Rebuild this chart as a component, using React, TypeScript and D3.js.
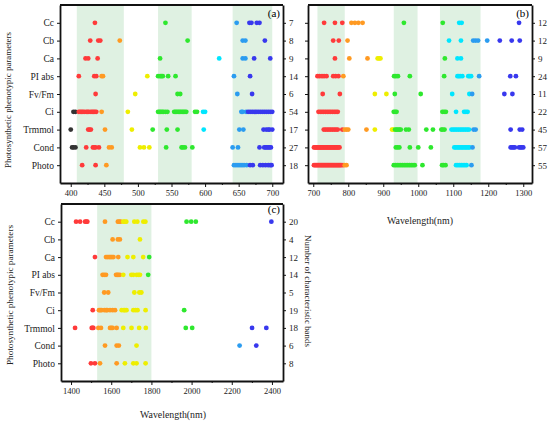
import { useEffect, useRef } from "react";
import * as d3 from "d3";

// Parameters (rows, top to bottom)
const params = ["Cc", "Cb", "Ca", "PI abs", "Fv/Fm", "Ci", "Trmmol", "Cond", "Photo"];

// Number of characteristic bands per parameter, per spectral region
const countsA = [7, 8, 9, 14, 6, 54, 17, 27, 18];
const countsB = [12, 12, 9, 24, 11, 22, 45, 57, 55];
const countsC = [20, 4, 12, 14, 5, 19, 18, 6, 8];

// Shaded wavelength ranges (nm)
const bandsA = [[409, 479], [530, 580], [641, 700]];
const bandsB = [[712, 790], [930, 998], [1062, 1178]];
const bandsC = [[1530, 1800]];

// Characteristic band wavelengths (nm), 400-700
const wavesA = [
    [436, 541, 647, 666, 669, 677, 681],
    [429, 441, 444, 473, 574, 656, 660, 689],
    [422, 426, 440, 533, 621, 656, 660, 673, 697],
    [412, 435, 438, 446, 448, 514, 530, 533, 535, 537, 545, 556, 643, 667],
    [437, 496, 559, 563, 648, 670],
    [404, 407, 412, 414, 416, 418, 420, 423, 425, 427, 430, 432, 434, 436, 438, 446, 485,
        530, 532, 534, 536, 538, 541, 544, 554, 556, 558, 560, 562, 564, 566, 568, 570, 572,
        585, 588, 597, 600, 654, 656, 661, 664, 667, 670, 673, 676, 679, 682, 685, 688, 691, 694, 697, 700],
    [400, 426, 428, 430, 451, 491, 522, 543, 559, 598, 651, 657, 687, 691, 694, 696, 700],
    [402, 404, 407, 423, 433, 435, 437, 442, 457, 461, 503, 509, 517, 542, 565, 567, 570, 581,
        641, 649, 681, 688, 690, 692, 694, 696, 698],
    [417, 437, 453, 643, 646, 649, 652, 655, 658, 662, 667, 671, 682, 686, 690, 694, 697, 699],
];

// 700-1300
const wavesB = [
    [731, 762, 783, 809, 819, 829, 841, 959, 1070, 1117, 1124, 1288],
    [757, 773, 798, 1088, 1122, 1157, 1164, 1171, 1197, 1233, 1267, 1290],
    [762, 803, 855, 884, 888, 892, 1076, 1112, 1122],
    [712, 718, 725, 731, 738, 757, 764, 772, 786, 931, 936, 942, 976, 1074, 1112, 1116, 1120,
        1126, 1143, 1147, 1151, 1174, 1263, 1279],
    [727, 776, 876, 909, 933, 1007, 1097, 1146, 1154, 1246, 1269],
    [715, 720, 725, 730, 735, 740, 745, 750, 755, 760, 765, 770, 930, 934, 938, 1069, 1074, 1079,
        1108, 1131, 1136, 1141],
    [730, 735, 740, 745, 750, 755, 760, 765, 770, 783, 790, 795, 800, 852, 876, 925, 929, 934, 938,
        942, 946, 950, 965, 973, 1023, 1042, 1066, 1070, 1075, 1095, 1100, 1105, 1110, 1115, 1120,
        1125, 1130, 1135, 1140, 1145, 1158, 1164, 1264, 1290, 1297],
    [702, 705, 707, 710, 712, 715, 717, 720, 722, 725, 727, 730, 732, 735, 737, 740, 742, 745, 747,
        750, 752, 755, 757, 760, 762, 765, 767, 770, 772, 775, 936, 941, 946, 976, 1000, 1036,
        1103, 1107, 1111, 1115, 1119, 1123, 1127, 1131, 1135, 1139, 1143, 1147, 1155,
        1264, 1268, 1272, 1276, 1288, 1292, 1296, 1300],
    [702, 705, 708, 711, 714, 717, 720, 723, 726, 729, 732, 735, 738, 741, 744, 747, 750, 753, 756,
        759, 762, 765, 768, 771, 774, 777, 780, 785, 790, 795, 930, 935, 940, 945, 950, 955, 960,
        965, 970, 975, 980, 985, 990, 1012, 1068, 1072, 1078, 1108, 1113, 1118, 1123, 1128, 1133,
        1138, 1152],
];

// 1400-2400
const wavesC = [
    [1425, 1445, 1470, 1476, 1481, 1569, 1633, 1640, 1647, 1660, 1667, 1675, 1715, 1730, 1760, 1770,
        1975, 1998, 2021, 2397],
    [1607, 1633, 1643, 1743],
    [1519, 1574, 1582, 1590, 1597, 1604, 1611, 1635, 1681, 1710, 1759, 1789],
    [1557, 1565, 1574, 1624, 1630, 1635, 1643, 1660, 1700, 1710, 1726, 1735, 1743, 1784],
    [1565, 1585, 1715, 1740, 1750],
    [1508, 1539, 1545, 1552, 1566, 1575, 1580, 1594, 1607, 1619, 1652, 1663, 1668, 1676, 1710, 1721,
        1731, 1771, 1963],
    [1420, 1503, 1507, 1511, 1536, 1549, 1594, 1600, 1607, 1627, 1660, 1701, 1739, 1772, 1971, 2003,
        2301, 2372],
    [1569, 1627, 1638, 1726, 2239, 2322],
    [1499, 1519, 1544, 1627, 1668, 1710, 1726, 1771],
];

const BLACK = "#333333", RED = "#ff3a3a", ORANGE = "#ff9a22", YELLOW = "#eeee00",
    GREEN = "#2ee82e", CYAN = "#00e6ff", DODGER = "#2b9cf0", BLUE = "#3838ee";

const FONT = "'Liberation Serif', 'Times New Roman', serif";

interface PanelSpec {
    left: number; top: number; right: number; bottom: number;
    domain: [number, number];
    major: number[]; minor: number[];
    waves: number[][]; counts: number[]; bands: number[][];
    color: d3.ScaleThreshold<number, string>;
    catLabels: boolean; tag: string; tagDy: number;
}

const App: React.FC = () => {
    const svgRef = useRef<SVGSVGElement | null>(null);

    useEffect(() => {
        if (!svgRef.current) return;
        const svg = d3.select(svgRef.current);
        svg.selectAll("*").remove();

        const panels: PanelSpec[] = [
            {
                left: 60, top: 5, right: 283, bottom: 183, domain: [384, 716],
                major: d3.range(400, 701, 50), minor: d3.range(425, 700, 50),
                waves: wavesA, counts: countsA, bands: bandsA,
                color: d3.scaleThreshold<number, string>()
                    .domain([410, 445, 480, 520, 592, 630, 664])
                    .range([BLACK, RED, ORANGE, YELLOW, GREEN, CYAN, DODGER, BLUE]),
                catLabels: true, tag: "(a)", tagDy: 12,
            },
            {
                left: 308, top: 5, right: 532, bottom: 183, domain: [685, 1325],
                major: d3.range(700, 1301, 100), minor: d3.range(750, 1300, 100),
                waves: wavesB, counts: countsB, bands: bandsB,
                color: d3.scaleThreshold<number, string>()
                    .domain([786, 860, 930, 1085, 1152, 1220])
                    .range([RED, ORANGE, YELLOW, GREEN, CYAN, DODGER, BLUE]),
                catLabels: false, tag: "(b)", tagDy: 12,
            },
            {
                left: 61, top: 204, right: 283, bottom: 381, domain: [1350, 2455],
                major: d3.range(1400, 2401, 200), minor: d3.range(1500, 2400, 200),
                waves: wavesC, counts: countsC, bands: bandsC,
                color: d3.scaleThreshold<number, string>()
                    .domain([1525, 1650, 1778, 2100, 2280])
                    .range([RED, ORANGE, YELLOW, GREEN, DODGER, BLUE]),
                catLabels: true, tag: "(c)", tagDy: 9,
            },
        ];

        panels.forEach(p => {
            const x = d3.scaleLinear().domain(p.domain).range([p.left, p.right]);
            const y = d3.scaleLinear().domain([-1, params.length]).range([p.top, p.bottom]);
            const g = svg.append("g");

            // shaded bands
            g.selectAll(".band")
                .data(p.bands)
                .enter()
                .append("rect")
                .attr("x", d => x(d[0]))
                .attr("y", p.top)
                .attr("width", d => x(d[1]) - x(d[0]))
                .attr("height", p.bottom - p.top)
                .attr("fill", "#dff1e2");

            // dots
            const pts = p.waves.flatMap((row, i) => row.map(w => ({ w, i })));
            g.selectAll(".dot")
                .data(pts)
                .enter()
                .append("circle")
                .attr("cx", d => x(d.w))
                .attr("cy", d => y(d.i))
                .attr("r", 2.4)
                .attr("fill", d => p.color(d.w));

            const rows = d3.range(params.length);

            // left axis
            const leftAxis = g.append("g")
                .attr("transform", `translate(${p.left},0)`)
                .call(d3.axisLeft(y).tickValues(rows).tickSize(3).tickSizeOuter(0)
                    .tickFormat(i => p.catLabels ? params[i as number] : ""));
            leftAxis.selectAll("text").style("font-family", FONT).style("font-size", "9.5px")
                .attr("fill", "#222").attr("dy", "0.33em");

            // right axis with counts
            const rightAxis = g.append("g")
                .attr("transform", `translate(${p.right},0)`)
                .call(d3.axisRight(y).tickValues(rows).tickSize(3).tickSizeOuter(0)
                    .tickFormat(i => String(p.counts[i as number])));
            rightAxis.selectAll("text").style("font-family", FONT).style("font-size", "9px")
                .attr("fill", "#222").attr("dy", "0.33em");

            // bottom axis
            const bottomAxis = g.append("g")
                .attr("transform", `translate(0,${p.bottom})`)
                .call(d3.axisBottom(x).tickValues(p.major).tickSize(4).tickSizeOuter(0)
                    .tickFormat(d3.format("d")));
            bottomAxis.selectAll("text").style("font-family", FONT).style("font-size", "8.5px")
                .attr("fill", "#222");
            g.append("g")
                .attr("transform", `translate(0,${p.bottom})`)
                .call(d3.axisBottom(x).tickValues(p.minor).tickSize(2).tickSizeOuter(0)
                    .tickFormat(() => ""))
                .select(".domain").remove();

            // top frame
            g.append("line")
                .attr("x1", p.left).attr("x2", p.right)
                .attr("y1", p.top).attr("y2", p.top)
                .attr("stroke", "#111").attr("stroke-width", 1.8);

            g.selectAll(".domain").attr("stroke", "#111").attr("stroke-width", 1.8);
            g.selectAll(".tick line").attr("stroke", "#111").attr("stroke-width", 1);

            g.append("text")
                .attr("x", p.right - 3).attr("y", p.top + p.tagDy)
                .attr("text-anchor", "end")
                .style("font-family", FONT).style("font-size", "11px")
                .text(p.tag);
        });

        // axis titles
        const titles = [
            { x: 8, y: 100, rot: -90, text: "Photosynthetic phenotypic parameters", len: 136, size: 9 },
            { x: 10, y: 295, rot: -90, text: "Photosynthetic phenotypic parameters", len: 140, size: 9 },
            { x: 308, y: 291, rot: 90, text: "Number of characteristic bands", len: 112, size: 9 },
            { x: 173, y: 414, rot: 0, text: "Wavelength(nm)", len: 66, size: 10 },
            { x: 420, y: 220, rot: 0, text: "Wavelength(nm)", len: 66, size: 10 },
        ];
        svg.selectAll(".title")
            .data(titles)
            .enter()
            .append("text")
            .attr("transform", d => `translate(${d.x},${d.y}) rotate(${d.rot})`)
            .attr("text-anchor", "middle")
            .attr("dy", "0.35em")
            .attr("textLength", d => d.len)
            .attr("lengthAdjust", "spacingAndGlyphs")
            .style("font-family", FONT)
            .style("font-size", d => `${d.size}px`)
            .attr("fill", "#222")
            .text(d => d.text);
    }, []);

    return (
        <svg ref={svgRef} width={550} height={422}
            style={{ position: "absolute", left: 0, top: 0, background: "#fff" }} />
    );
};

export default App;
